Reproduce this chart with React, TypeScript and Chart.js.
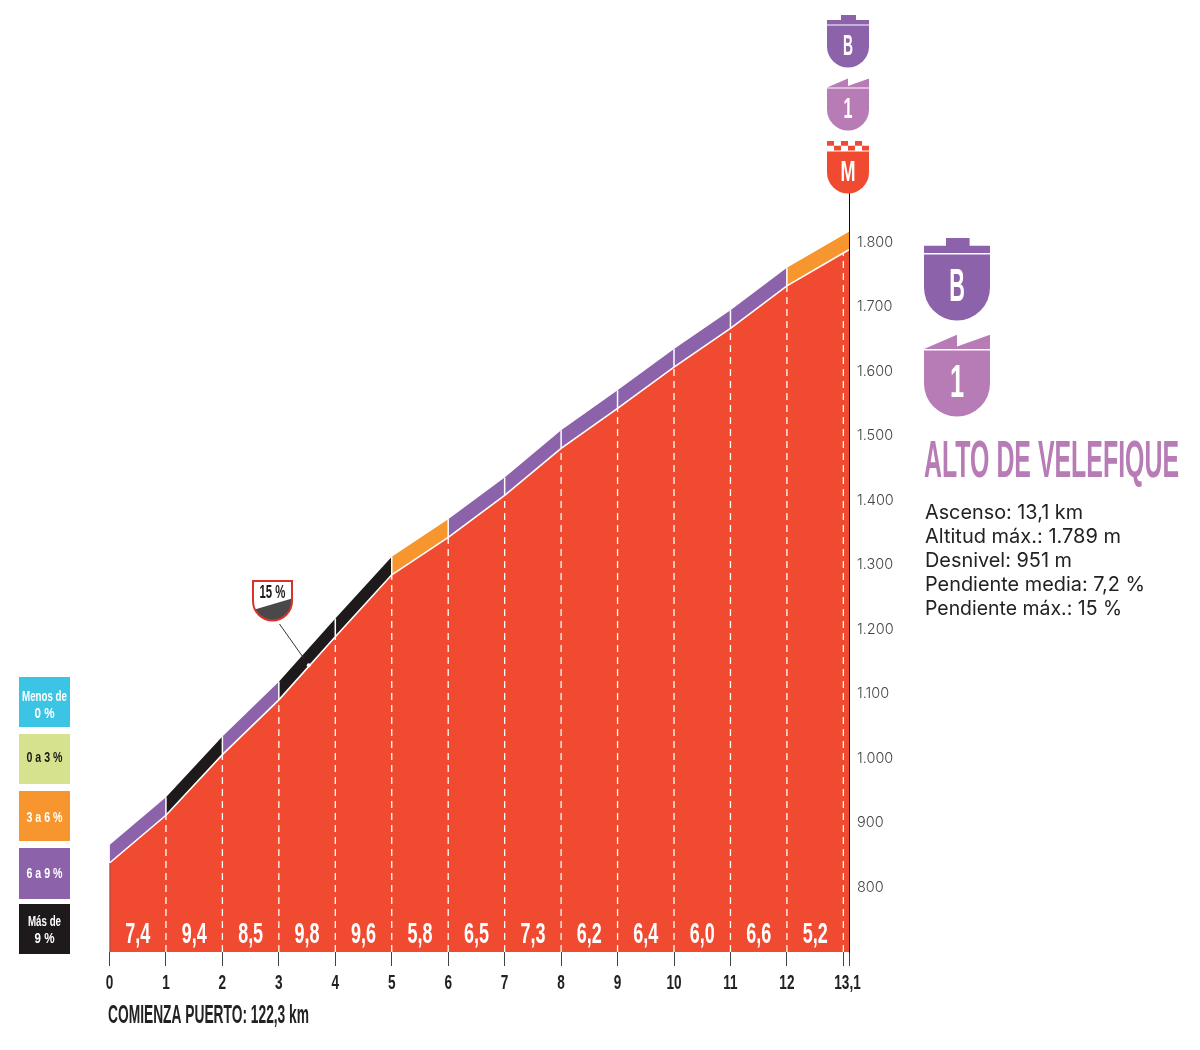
import React, { useEffect, useRef } from "react";
import { Chart, registerables } from "chart.js";

Chart.register(...registerables);

// ---- data ----
const kms = [0, 1, 2, 3, 4, 5, 6, 7, 8, 9, 10, 11, 12, 13, 13.1];
const altitudes = [838, 912, 1006, 1091, 1189, 1285, 1343, 1408, 1481, 1543, 1607, 1667, 1733, 1784, 1789];
const slopes = [7.4, 9.4, 8.5, 9.8, 9.6, 5.8, 6.5, 7.3, 6.2, 6.4, 6.0, 6.6, 5.2];
const slopeLabels = ["7,4", "9,4", "8,5", "9,8", "9,6", "5,8", "6,5", "7,3", "6,2", "6,4", "6,0", "6,6", "5,2"];
const altitudeTicks = [800, 900, 1000, 1100, 1200, 1300, 1400, 1500, 1600, 1700, 1800];
const bandThickness = 28;
const steepKm = 3.53;
const steepAltitude = 1143;
const legendLabels = [["Menos de", "0 %"], ["0 a 3 %"], ["3 a 6 %"], ["6 a 9 %"], ["Más de", "9 %"]];
const statLines = ["Ascenso: 13,1 km", "Altitud máx.: 1.789 m", "Desnivel: 951 m", "Pendiente media: 7,2 %", "Pendiente máx.: 15 %"];

// ---- styles ----
const RED = "#F04B30";
const PURPLE = "#8C62AB";
const MAUVE = "#B77BB5";
const ORANGE = "#F7962E";
const BLACK = "#1E1A1B";
const NARROW = '"Liberation Sans"';
const SANS = "Inter";
const slopeColor = (s: number) => (s >= 9 ? BLACK : s >= 6 ? PURPLE : ORANGE);

const legendBoxes = [
  { top: 677, h: 50, fill: "#3BC4E4", ink: "#fff", widths: [45, 20], base: [24, 41] },
  { top: 734, h: 50, fill: "#D6E28E", ink: BLACK, widths: [36], base: [28] },
  { top: 791, h: 50, fill: ORANGE, ink: "#fff", widths: [36], base: [31] },
  { top: 848, h: 51, fill: PURPLE, ink: "#fff", widths: [36], base: [30] },
  { top: 904, h: 50, fill: BLACK, ink: "#fff", widths: [33, 20], base: [22, 39] },
];
const statWidths = [158, 196, 147, 220, 197];

function fitText(ctx: any, text: string, x: number, y: number, font: string, width: number, color: string, align = "left") {
  ctx.save();
  ctx.font = font;
  const w = ctx.measureText(text).width;
  ctx.translate(x, y);
  ctx.scale(width / w, 1);
  ctx.textAlign = align;
  ctx.textBaseline = "alphabetic";
  ctx.fillStyle = color;
  ctx.fillText(text, 0, 0);
  ctx.restore();
}

function drawShield(ctx: any, left: number, top: number, w: number, color: string, kind: string, label: string, labelW: number) {
  const s = w / 42;
  ctx.save();
  ctx.translate(left, top);
  ctx.scale(s, s);
  ctx.fillStyle = color;
  ctx.beginPath();
  ctx.moveTo(0, 10.5);
  ctx.lineTo(42, 10.5);
  ctx.lineTo(42, 31.5);
  ctx.arc(21, 31.5, 21, 0, Math.PI);
  ctx.closePath();
  ctx.fill();
  ctx.beginPath();
  if (kind === "tab") {
    ctx.rect(14, 0, 15, 5.5);
    ctx.rect(0, 5, 42, 4.6);
  } else if (kind === "peak") {
    ctx.moveTo(0, 9.5);
    ctx.lineTo(21, 0.5);
    ctx.lineTo(21, 8);
    ctx.lineTo(42, 0.5);
    ctx.lineTo(42, 9.5);
    ctx.closePath();
  } else {
    for (let i = 0; i < 6; i++) {
      ctx.rect(i * 7, i % 2 === 0 ? 0 : 4.7, 7, 4.7);
    }
  }
  ctx.fill();
  fitText(ctx, label, 21, 40, `bold 30px ${NARROW}`, labelW, "#fff", "center");
  ctx.restore();
}

function drawSteepBadge(ctx: any) {
  const path = () => {
    ctx.beginPath();
    ctx.moveTo(253, 581);
    ctx.lineTo(292, 581);
    ctx.lineTo(292, 601);
    ctx.arc(272.5, 601, 19.5, 0, Math.PI);
    ctx.closePath();
  };
  ctx.save();
  path();
  ctx.fillStyle = "#fff";
  ctx.fill();
  ctx.save();
  ctx.clip();
  ctx.fillStyle = "#49494B";
  ctx.beginPath();
  ctx.moveTo(250, 611);
  ctx.lineTo(294, 598);
  ctx.lineTo(294, 625);
  ctx.lineTo(250, 625);
  ctx.closePath();
  ctx.fill();
  ctx.restore();
  path();
  ctx.strokeStyle = "#D8322A";
  ctx.lineWidth = 2;
  ctx.stroke();
  fitText(ctx, "15 %", 272.5, 598, `bold 18px ${NARROW}`, 26, BLACK, "center");
  ctx.restore();
}

const decorations = {
  id: "decorations",
  afterDraw(chart: any) {
    const { ctx, scales } = chart;
    const { x, y } = scales;

    // km labels under the axis ticks, squeezed to the narrow width of the reference
    x.ticks.forEach((t: any, i: number) => {
      const label = String(t.label ?? "");
      if (!label) return;
      ctx.save();
      ctx.font = `bold 20px ${NARROW}`;
      const w = ctx.measureText(label).width * 0.68;
      ctx.restore();
      const cx = x.getPixelForTick(i) - (t.value === 13.1 ? 1.5 : 0);
      fitText(ctx, label, cx, 989, `bold 20px ${NARROW}`, w, "#222", "center");
    });

    // slope figures inside the profile
    slopeLabels.forEach((t, i) => {
      fitText(ctx, t, x.getPixelForValue(i + 0.5), 943, `bold 30px ${NARROW}`, 25, "#fff", "center");
    });

    // leader and dot of the steepest point
    const px = x.getPixelForValue(steepKm);
    const py = y.getPixelForValue(steepAltitude);
    ctx.save();
    ctx.strokeStyle = "#333";
    ctx.lineWidth = 1;
    ctx.beginPath();
    ctx.moveTo(279.5, 624);
    ctx.lineTo(px - 5, py - 8);
    ctx.stroke();
    ctx.fillStyle = "#fff";
    ctx.beginPath();
    ctx.arc(px, py - 1, 2, 0, Math.PI * 2);
    ctx.fill();
    ctx.restore();
    drawSteepBadge(ctx);

    // shields
    drawShield(ctx, 827, 15, 42, PURPLE, "tab", "B", 10);
    drawShield(ctx, 827, 78, 42, MAUVE, "peak", "1", 9);
    drawShield(ctx, 827, 141, 42, RED, "check", "M", 15);
    drawShield(ctx, 924, 238, 66, PURPLE, "tab", "B", 10);
    drawShield(ctx, 924, 334, 66, MAUVE, "peak", "1", 9);

    // right panel
    fitText(ctx, "ALTO DE VELEFIQUE", 924, 477, `bold 52px ${NARROW}`, 255, MAUVE);
    statLines.forEach((t, i) => {
      fitText(ctx, t, 925, 519 + i * 24, `400 20px ${SANS}`, statWidths[i], "#222");
    });

    // legend
    legendBoxes.forEach((b, i) => {
      ctx.fillStyle = b.fill;
      ctx.fillRect(19, b.top, 51, b.h);
      const font = `bold 15px ${NARROW}`;
      legendLabels[i].forEach((line, j) => {
        fitText(ctx, line, 44.5, b.top + b.base[j], font, b.widths[j], b.ink, "center");
      });
    });

    // start note
    fitText(ctx, "COMIENZA PUERTO: 122,3 km", 108, 1023, `bold 25px ${NARROW}`, 201, "#222");
  },
};

export default function App() {
  const ref = useRef<HTMLCanvasElement>(null);
  useEffect(() => {
    const points = kms.map((k, i) => ({ x: k, y: altitudes[i] }));
    const top = kms.map((k, i) => ({ x: k, y: altitudes[i] + bandThickness }));
    const drops = kms.slice(0, -1).map((k, i) => ({
      type: "line",
      order: 0,
      data: [{ x: k, y: 700 }, { x: k, y: altitudes[i] }],
      borderColor: i === 0 ? "#444" : "#fff",
      borderWidth: i === 0 ? 1.5 : 1.3,
      borderDash: i === 0 ? [] : [7, 5],
      pointRadius: 0,
      fill: false,
    }));
    const dividers = kms.slice(1, -2).map((k, i) => ({
      type: "line",
      order: 0,
      data: [{ x: k, y: altitudes[i + 1] }, { x: k, y: altitudes[i + 1] + bandThickness }],
      borderColor: "#fff",
      borderWidth: 1.5,
      pointRadius: 0,
      fill: false,
    }));
    const chart = new Chart(ref.current as any, {
      type: "line",
      data: {
        datasets: [
          {
            order: 1,
            data: points,
            borderColor: "#fff",
            borderWidth: 1.6,
            backgroundColor: RED,
            pointRadius: 0,
            fill: "start",
          },
          {
            order: 2,
            data: top,
            borderWidth: 0,
            borderColor: "rgba(0,0,0,0)",
            pointRadius: 0,
            fill: 0,
            backgroundColor: PURPLE,
            segment: {
              backgroundColor: (c: any) => slopeColor(slopes[Math.min(c.p0DataIndex, slopes.length - 1)]),
            },
          },
          ...drops,
          ...dividers,
        ] as any,
      },
      options: {
        animation: false,
        responsive: false,
        layout: { padding: { left: 109.5, right: 251, top: 193, bottom: 0 } },
        plugins: { legend: { display: false }, tooltip: { enabled: false }, title: { display: false } },
        scales: {
          x: {
            type: "linear",
            min: 0,
            max: 13.1,
            afterBuildTicks: (s: any) => {
              s.ticks = kms.map((value) => ({ value }));
            },
            afterFit: (s: any) => {
              s.height = 98;
            },
            border: { display: false },
            grid: { display: true, drawOnChartArea: false, drawTicks: true, tickLength: 14, color: "#444", lineWidth: 1 },
            ticks: {
              display: false,
              autoSkip: false,
              maxRotation: 0,
              callback: (v: any) => (v === 13 ? "" : String(v).replace(".", ",")),
            },
          },
          y: {
            type: "linear",
            position: "right",
            min: 700,
            max: 1877,
            afterBuildTicks: (s: any) => {
              s.ticks = altitudeTicks.map((value) => ({ value }));
            },
            afterFit: (s: any) => {
              s.width = 100;
            },
            border: { display: true, color: "#111", width: 1 },
            grid: { display: false },
            ticks: {
              padding: 0,
              color: "#444",
              font: { family: SANS, size: 14.5, weight: "300" },
              callback: (v: any) => (v >= 1000 ? `${Math.floor(v / 1000)}.${String(v % 1000).padStart(3, "0")}` : String(v)),
            },
          },
        },
      } as any,
      plugins: [decorations],
    });
    return () => chart.destroy();
  }, []);
  return (
    <div style={{ position: "absolute", left: 0, top: 0, width: 1200, height: 1050, background: "#fff", overflow: "hidden" }}>
      <canvas ref={ref} width={1200} height={1050} style={{ display: "block" }} />
    </div>
  );
}
